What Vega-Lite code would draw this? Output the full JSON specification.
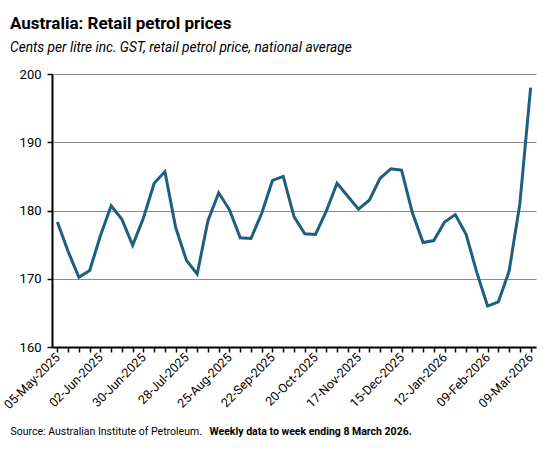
{
  "$schema": "https://vega.github.io/schema/vega-lite/v6.json",
  "description": "Australia retail petrol prices, weekly national average",
  "width": 484,
  "height": 273,
  "autosize": {"type": "none"},
  "padding": {"left": 52, "top": 74, "right": 13, "bottom": 107},
  "background": "white",
  "title": {
    "text": "Australia: Retail petrol prices",
    "subtitle": "Cents per litre inc. GST, retail petrol price, national average",
    "anchor": "start",
    "frame": "group",
    "dx": -42,
    "offset": 12,
    "font": "Roboto",
    "fontSize": 17,
    "fontWeight": "bold",
    "color": "#000000",
    "subtitleFont": "Roboto",
    "subtitleFontSize": 13.7,
    "subtitleFontStyle": "italic",
    "subtitleColor": "#000000",
    "subtitlePadding": 8
  },
  "config": {
    "view": {"stroke": null},
    "axis": {"labelFont": "Roboto", "titleFont": "Roboto"}
  },
  "data": {
    "values": [
      {"week": "05-May-2025", "price": 178.3},
      {"week": "12-May-2025", "price": 174.0},
      {"week": "19-May-2025", "price": 170.2},
      {"week": "26-May-2025", "price": 171.2},
      {"week": "02-Jun-2025", "price": 176.3},
      {"week": "09-Jun-2025", "price": 180.7},
      {"week": "16-Jun-2025", "price": 178.7},
      {"week": "23-Jun-2025", "price": 174.9},
      {"week": "30-Jun-2025", "price": 178.9},
      {"week": "07-Jul-2025", "price": 184.0},
      {"week": "14-Jul-2025", "price": 185.7},
      {"week": "21-Jul-2025", "price": 177.5},
      {"week": "28-Jul-2025", "price": 172.7},
      {"week": "04-Aug-2025", "price": 170.7},
      {"week": "11-Aug-2025", "price": 178.5},
      {"week": "18-Aug-2025", "price": 182.6},
      {"week": "25-Aug-2025", "price": 180.1},
      {"week": "01-Sep-2025", "price": 176.0},
      {"week": "08-Sep-2025", "price": 175.9},
      {"week": "15-Sep-2025", "price": 179.6},
      {"week": "22-Sep-2025", "price": 184.4},
      {"week": "29-Sep-2025", "price": 185.0},
      {"week": "06-Oct-2025", "price": 179.1},
      {"week": "13-Oct-2025", "price": 176.6},
      {"week": "20-Oct-2025", "price": 176.5},
      {"week": "27-Oct-2025", "price": 179.9},
      {"week": "03-Nov-2025", "price": 184.0},
      {"week": "10-Nov-2025", "price": 182.1},
      {"week": "17-Nov-2025", "price": 180.2},
      {"week": "24-Nov-2025", "price": 181.5},
      {"week": "01-Dec-2025", "price": 184.7},
      {"week": "08-Dec-2025", "price": 186.1},
      {"week": "15-Dec-2025", "price": 185.9},
      {"week": "22-Dec-2025", "price": 179.7},
      {"week": "29-Dec-2025", "price": 175.3},
      {"week": "05-Jan-2026", "price": 175.6},
      {"week": "12-Jan-2026", "price": 178.3},
      {"week": "19-Jan-2026", "price": 179.4},
      {"week": "26-Jan-2026", "price": 176.5},
      {"week": "02-Feb-2026", "price": 170.9},
      {"week": "09-Feb-2026", "price": 166.0},
      {"week": "16-Feb-2026", "price": 166.6},
      {"week": "23-Feb-2026", "price": 171.1},
      {"week": "02-Mar-2026", "price": 181.0},
      {"week": "09-Mar-2026", "price": 198.0}
    ]
  },
  "layer": [
    {
      "mark": {"type": "line", "color": "#1d5f7e", "strokeWidth": 3, "strokeJoin": "miter"},
      "encoding": {
        "x": {
          "field": "week",
          "type": "ordinal",
          "sort": null,
          "scale": {"type": "point", "padding": 0.5},
          "axis": {
            "orient": "bottom",
            "title": "Source: Australian Institute of Petroleum.",
            "titleFontSize": 10.5,
            "titleFontWeight": "normal",
            "titleColor": "#000000",
            "titleAlign": "left",
            "titleAnchor": null,
            "titleX": -42,
            "titleY": 79,
            "titleBaseline": "top",
            "labelExpr": "indexof(['05-May-2025','02-Jun-2025','30-Jun-2025','28-Jul-2025','25-Aug-2025','22-Sep-2025','20-Oct-2025','17-Nov-2025','15-Dec-2025','12-Jan-2026','09-Feb-2026','09-Mar-2026'], datum.value) >= 0 ? datum.value : ''",
            "labelOverlap": false,
            "labelAngle": -45,
            "labelAlign": "right",
            "labelBaseline": "middle",
            "labelFontSize": 12.5,
            "labelColor": "#000000",
            "labelPadding": 3,
            "domainColor": "#000000",
            "domainWidth": 2,
            "tickColor": "#000000",
            "tickWidth": 1.5,
            "tickSize": 5,
            "grid": false
          }
        },
        "y": {
          "field": "price",
          "type": "quantitative",
          "scale": {"domain": [160, 200], "nice": false, "zero": false},
          "axis": {
            "title": null,
            "values": [160, 170, 180, 190, 200],
            "labelFontSize": 13,
            "labelColor": "#000000",
            "labelPadding": 6,
            "domainColor": "#000000",
            "domainWidth": 2,
            "tickColor": "#000000",
            "tickWidth": 1.5,
            "tickSize": 5,
            "gridColor": "#8c8c8c",
            "gridWidth": 1
          }
        }
      }
    },
    {
      "mark": {"type": "line", "opacity": 0},
      "encoding": {
        "x": {
          "field": "week",
          "type": "ordinal",
          "sort": null,
          "axis": {
            "orient": "bottom",
            "title": "Weekly data to week ending 8 March 2026.",
            "titleFontSize": 10.5,
            "titleFontWeight": "bold",
            "titleColor": "#000000",
            "titleAlign": "left",
            "titleAnchor": null,
            "titleX": 157,
            "titleY": 79,
            "titleBaseline": "top",
            "labels": false,
            "ticks": false,
            "domain": false,
            "grid": false
          }
        },
        "y": {"field": "price", "type": "quantitative"}
      }
    }
  ],
  "resolve": {"axis": {"x": "independent"}}
}
